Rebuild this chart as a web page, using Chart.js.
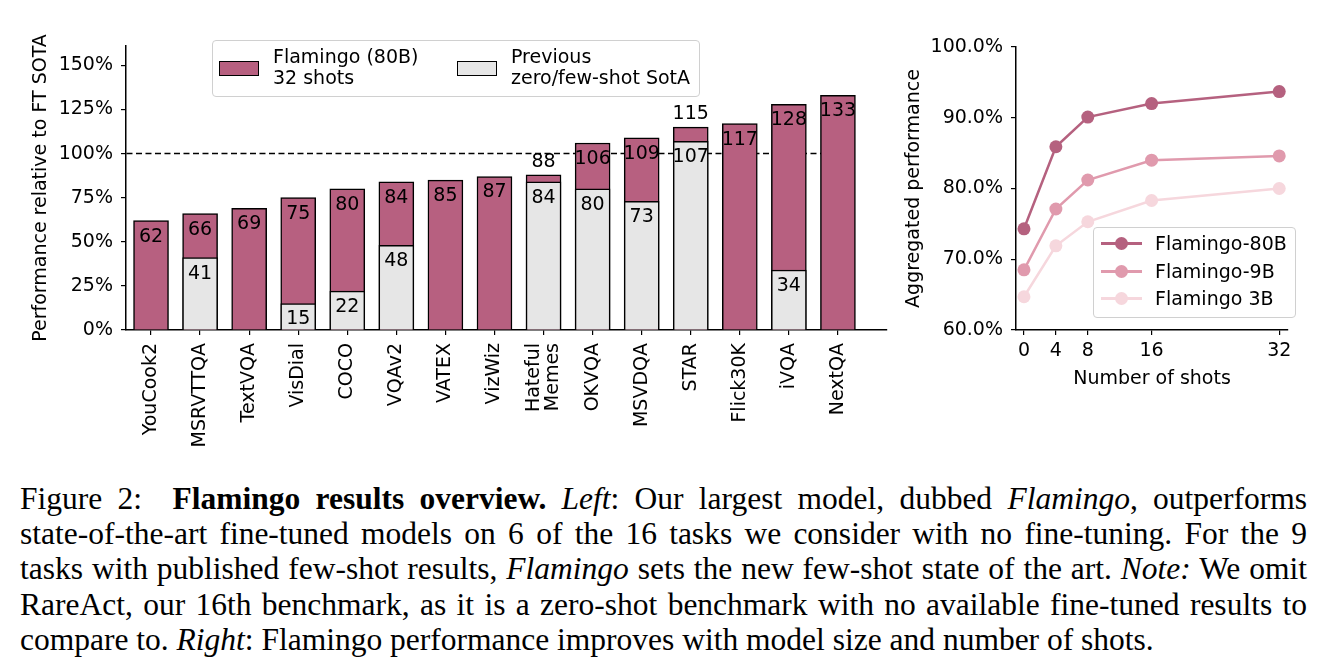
<!DOCTYPE html>
<html>
<head>
<meta charset="utf-8">
<script src="https://cdn.jsdelivr.net/npm/chart.js@4/dist/chart.umd.min.js"></script>
<style>
  body { margin: 0; background: #fff; width: 1341px; height: 668px; position: relative; overflow: hidden; }
  .abs { position: absolute; }
  .lg { position: absolute; border: 1px solid #d0d0d0; border-radius: 4px; background: rgba(255,255,255,0.8);
        font-family: "DejaVu Sans"; font-size: 19px; color: #000; }
  .sw { position: absolute; border: 1.5px solid #000; box-sizing: border-box; }
  .lt { position: absolute; line-height: 21px; white-space: nowrap; }
  .row { position: absolute; left: 0; width: 100%; height: 26px; }
  .ln { position: absolute; left: 7px; width: 41px; top: 12px; height: 2.5px; }
  .dot { position: absolute; left: 21px; top: 6.5px; width: 13px; height: 13px; border-radius: 50%; }
  .rt { position: absolute; left: 61px; top: 2px; line-height: 22px; }
  #caption { position: absolute; left: 20px; top: 481px; width: 1287px; font-family: "Liberation Serif"; font-size: 31.5px; line-height: 35.2px; color: #000; }
  #caption div { text-align: justify; text-align-last: justify; white-space: nowrap; }
  #caption div.last { text-align-last: left; }
</style>
</head>
<body>
<canvas id="chartBars" class="abs" width="900" height="460" style="left:0;top:0"></canvas>
<canvas id="chartShots" class="abs" width="451" height="400" style="left:890px;top:0"></canvas>

<div class="lg" style="left:212px;top:40px;width:486px;height:55px">
  <div class="sw" style="left:6px;top:20px;width:40px;height:15px;background:#b76080"></div>
  <div class="lt" style="left:60px;top:5px">Flamingo (80B)<br>32 shots</div>
  <div class="sw" style="left:244px;top:20px;width:40px;height:15px;background:#e6e6e6"></div>
  <div class="lt" style="left:298px;top:5px">Previous<br>zero/few-shot SotA</div>
</div>

<div class="lg" style="left:1093px;top:227px;width:201px;height:89px">
  <div class="row" style="top:2px"><div class="ln" style="background:#b5617f"></div><div class="dot" style="background:#b5617f"></div><div class="rt">Flamingo-80B</div></div>
  <div class="row" style="top:30px"><div class="ln" style="background:#e09aad"></div><div class="dot" style="background:#e09aad"></div><div class="rt">Flamingo-9B</div></div>
  <div class="row" style="top:57px"><div class="ln" style="background:#f6d7dd"></div><div class="dot" style="background:#f6d7dd"></div><div class="rt">Flamingo 3B</div></div>
</div>

<div id="caption">
  <div>Figure 2:&nbsp; <b>Flamingo results overview.</b> <i>Left</i>: Our largest model, dubbed <i>Flamingo</i>, outperforms</div>
  <div>state-of-the-art fine-tuned models on 6 of the 16 tasks we consider with no fine-tuning. For the 9</div>
  <div>tasks with published few-shot results, <i>Flamingo</i> sets the new few-shot state of the art. <i>Note:</i> We omit</div>
  <div>RareAct, our 16th benchmark, as it is a zero-shot benchmark with no available fine-tuned results to</div>
  <div class="last">compare to. <i>Right</i>: Flamingo performance improves with model size and number of shots.</div>
</div>

<script>
// left panel data
const tasks = ['YouCook2', 'MSRVTTQA', 'TextVQA', 'VisDial', 'COCO', 'VQAv2', 'VATEX', 'VizWiz',
               ['Hateful', 'Memes'], 'OKVQA', 'MSVDQA', 'STAR', 'Flick30K', 'iVQA', 'NextQA'];
const flamingo = [62, 66, 69, 75, 80, 84, 85, 87, 88, 106, 109, 115, 117, 128, 133];
const previous = [null, 41, null, 15, 22, 48, null, null, 84, 80, 73, 107, null, 34, null];
const yTicksLeft = [0, 25, 50, 75, 100, 125, 150];

// right panel data
const shots = [0, 4, 8, 16, 32];
const perf80B = [74.3, 85.9, 90.1, 92.0, 93.7];
const perf9B = [68.5, 77.1, 81.2, 84.0, 84.6];
const perf3B = [64.7, 71.9, 75.3, 78.3, 80.0];
const yTicksRight = [60, 70, 80, 90, 100];

Chart.defaults.font.family = 'DejaVu Sans';
Chart.defaults.font.size = 19;
Chart.defaults.color = '#000';

const PINK = '#b76080';
const GREY = '#e6e6e6';

const refLine = {
  id: 'refLine',
  beforeDatasetsDraw(chart) {
    const {ctx, scales: {x, y}} = chart;
    const py = y.getPixelForValue(100);
    ctx.save();
    ctx.strokeStyle = '#000';
    ctx.lineWidth = 1.5;
    ctx.setLineDash([6, 3.5]);
    ctx.beginPath();
    ctx.moveTo(x.getPixelForValue(-0.5), py);
    ctx.lineTo(x.getPixelForValue(14), py);
    ctx.stroke();
    ctx.restore();
  }
};

const barLabels = {
  id: 'barLabels',
  afterDatasetsDraw(chart) {
    const ctx = chart.ctx;
    const fl = chart.getDatasetMeta(0).data;
    const pv = chart.getDatasetMeta(1).data;
    ctx.save();
    ctx.font = '19px "DejaVu Sans"';
    ctx.fillStyle = '#000';
    ctx.textAlign = 'center';
    ctx.textBaseline = 'middle';
    flamingo.forEach((v, i) => {
      const p = previous[i];
      const above = p != null && v - p < 10;
      ctx.fillText(String(v), fl[i].x, above ? fl[i].y - 13 : fl[i].y + 16);
      if (p != null) ctx.fillText(String(p), pv[i].x, pv[i].y + 16);
    });
    ctx.restore();
  }
};

// centre two-line rotated tick labels on their tick
function centreMultiline(s) {
  if (s._centred) return;
  s._centred = true;
  const orig = s._computeLabelItems;
  s._computeLabelItems = function (area) {
    const items = orig.call(this, area);
    items.forEach(it => {
      if (Array.isArray(it.label) && it.options && it.options.translation) {
        it.options.translation[0] -= (it.label.length - 1) * 19 / 2;
      }
    });
    return items;
  };
}

const axisStyle = {
  offset: false,
  grid: { drawOnChartArea: false, drawTicks: true, tickLength: 5, color: '#000', lineWidth: 1.2, offset: false },
  border: { display: true, color: '#000', width: 1.5 }
};

new Chart(document.getElementById('chartBars'), {
  type: 'bar',
  data: {
    datasets: [
      {
        label: 'Flamingo (80B) 32 shots',
        data: flamingo.map((v, i) => ({x: i, y: v})),
        backgroundColor: PINK,
        borderColor: '#000',
        borderWidth: 1.5,
        barThickness: 35,
        grouped: false,
        order: 2
      },
      {
        label: 'Previous zero/few-shot SotA',
        data: previous.map((v, i) => ({x: i, y: v})),
        backgroundColor: GREY,
        borderColor: '#000',
        borderWidth: 1.5,
        barThickness: 35,
        grouped: false,
        order: 1
      }
    ]
  },
  options: {
    responsive: false,
    animation: false,
    layout: { padding: { left: 30, top: 46, right: 13, bottom: 0 } },
    plugins: { legend: { display: false }, tooltip: { enabled: false } },
    scales: {
      x: {
        type: 'linear',
        min: -0.51,
        max: 15,
        ...axisStyle,
        afterBuildTicks: s => { s.ticks = tasks.map((t, i) => ({value: i})); },
        afterFit: s => { s.height = 130; centreMultiline(s); },
        ticks: { autoSkip: false, minRotation: 90, maxRotation: 90, padding: 8,
                 font: { lineHeight: 1.0 },
                 callback: v => tasks[v] },
      },
      y: {
        min: 0,
        max: 161,
        ...axisStyle,
        afterBuildTicks: s => { s.ticks = yTicksLeft.map(v => ({value: v})); },
        afterFit: s => { s.width = 96; },
        ticks: { padding: 8, callback: v => v + '%' },
        title: { display: true, text: 'Performance relative to FT SOTA', padding: {top: 0, bottom: 4} }
      }
    }
  },
  plugins: [refLine, barLabels]
});

const lineSet = (label, data, color) => ({
  label,
  data: data.map((v, i) => ({x: shots[i], y: v})),
  borderColor: color,
  backgroundColor: color,
  pointBackgroundColor: color,
  pointBorderWidth: 0,
  pointRadius: 6.5,
  borderWidth: 2.5
});

new Chart(document.getElementById('chartShots'), {
  type: 'line',
  data: {
    datasets: [
      lineSet('Flamingo 3B', perf3B, '#f6d7dd'),
      lineSet('Flamingo-9B', perf9B, '#e09aad'),
      lineSet('Flamingo-80B', perf80B, '#b5617f')
    ]
  },
  options: {
    responsive: false,
    animation: false,
    layout: { padding: { left: 13, top: 47, right: 53, bottom: 10 } },
    plugins: { legend: { display: false }, tooltip: { enabled: false } },
    scales: {
      x: {
        type: 'linear',
        min: -1,
        max: 33.1,
        ...axisStyle,
        afterBuildTicks: s => { s.ticks = shots.map(v => ({value: v})); },
        afterFit: s => { s.height = 60; },
        ticks: { padding: 5, maxRotation: 0 },
        title: { display: true, text: 'Number of shots', padding: {top: 0, bottom: 0} }
      },
      y: {
        min: 60,
        max: 100,
        ...axisStyle,
        afterBuildTicks: s => { s.ticks = yTicksRight.map(v => ({value: v})); },
        afterFit: s => { s.width = 113; },
        ticks: { padding: 8, callback: v => v.toFixed(1) + '%' },
        title: { display: true, text: 'Aggregated performance', padding: {top: 0, bottom: 4} }
      }
    }
  }
});
</script>
</body>
</html>
